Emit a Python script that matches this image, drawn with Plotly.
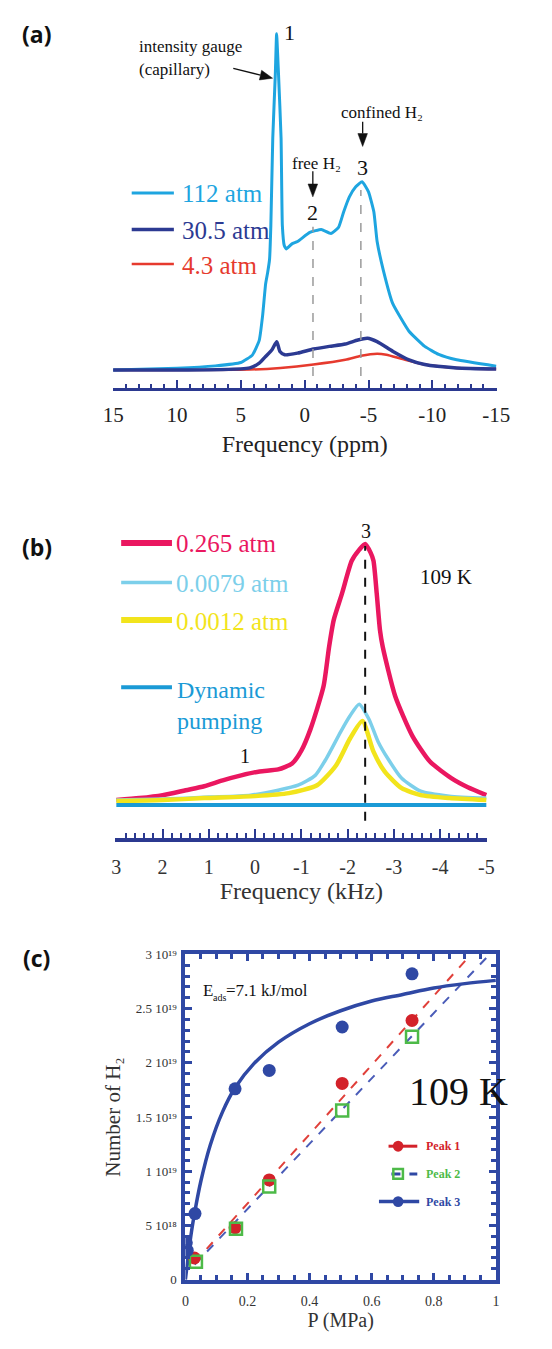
import math
import plotly.graph_objects as go

W, H = 552, 1349
def px(x): return x / W
def py(y): return 1 - y / H

SERIF = "Liberation Serif"
SANS = "Open Sans"

# ---------------- Panel (a) data : frequency (ppm) vs intensity (a.u.)
ppm_112 = [15, 10, 7, 5, 4.1, 3.56, 3.3, 3.06, 2.9, 2.75, 2.65, 2.5, 2.3, 2.2, 2.05, 1.85, 1.75, 1.6, 1.44,
           1.0, 0.56, -0.4, -1.3, -2.05, -2.65, -3.05, -3.5, -4.0, -4.5, -5.0, -5.42, -5.67, -6.17, -6.9,
           -8.17, -9.4, -10.5, -11.9, -15]
int_112 = [0, 0.5, 1.2, 2.2, 4.4, 8.8, 16, 25.6, 29, 33, 43, 69, 88, 100, 88, 69, 43, 37, 36,
           37.5, 38.2, 40.9, 41.8, 40.6, 42.4, 47, 51.5, 54.5, 56, 53, 47, 38.3, 29.5, 19.7,
           11.5, 7, 4.6, 3, 1.1]

ppm_30 = [15, 4.3, 3.56, 3.06, 2.56, 2.19, 1.94, 1.56, 0.56, -0.68, -1.93, -3.18, -4.17, -4.92, -5.67,
          -6.92, -8.17, -9.4, -11.9, -15]
int_30 = [0, 0.6, 2, 4, 6, 8.4, 5.5, 4.5, 5, 6.2, 7, 7.7, 8.9, 9.4, 8.4,
          5.5, 3, 1.6, 0.6, 0.3]

ppm_4 = [15, 4.3, 1.9, -0.68, -3.18, -4.42, -5.67, -6.4, -7.67, -9.4, -11.9, -15]
int_4 = [0, 0.1, 0.6, 1.6, 3, 4.2, 4.8, 4.5, 3.2, 1.6, 0.6, 0.3]

labels_a = ["112 atm", "30.5 atm", "4.3 atm"]
ticks_a = [15, 10, 5, 0, -5, -10, -15]
ticktext_a = ["15", "10", "5", "0", "-5", "-10", "-15"]
free_h2_ppm = -0.65
confined_h2_ppm = -4.4

# ---------------- Panel (b) data : frequency (kHz) vs intensity (a.u.)
khz_265 = [3.0, 2.5, 2.0, 1.5, 1.1, 0.7, 0.3, -0.1, -0.5, -0.8, -1.0, -1.2, -1.48, -1.6, -1.7, -1.88,
           -2.09, -2.25, -2.38, -2.5, -2.56, -2.63, -2.7, -2.76, -3.03, -3.4, -3.78, -4.25, -4.6, -5.0]
int_265 = [5, 7, 10, 15, 19, 25, 30, 34, 36, 42, 55, 77, 120, 160, 187, 214,
           247, 258, 264, 255, 247, 214, 177, 160, 110, 70, 44, 27, 18, 10]

khz_0079 = [3.0, 2.0, 1.0, 0.1, -0.5, -0.93, -1.3, -1.54, -1.85, -2.05, -2.25, -2.46, -2.66, -2.87,
            -3.17, -3.58, -4.2, -5.0]
int_0079 = [5, 6, 8, 10, 15, 20, 30, 47, 74, 90, 102, 87, 64, 47, 27, 14, 9, 7]

khz_0012 = [3.0, 2.0, 1.1, 0.0, -0.73, -1.34, -1.75, -2.05, -2.32, -2.56, -2.8, -3.17, -3.58, -4.2, -5.0]
int_0012 = [4, 5, 7, 9, 12, 20, 40, 67, 85, 54, 34, 17, 10, 7, 5]

khz_dyn = [3.0, 1.0, -1.0, -3.0, -5.0]
int_dyn = [0, 0, 0, 0, 0]

labels_b = ["0.265 atm", "0.0079 atm", "0.0012 atm", "Dynamic<br>pumping"]
ticks_b = [3, 2, 1, 0, -1, -2, -3, -4, -5]
ticktext_b = ["3", "2", "1", "0", "-1", "-2", "-3", "-4", "-5"]
peak3_khz = -2.38

# ---------------- Panel (c) data : pressure (MPa) vs number of H2
p_peak1 = [0.029, 0.16, 0.27, 0.505, 0.73]
n_peak1 = [0.20e19, 0.48e19, 0.92e19, 1.81e19, 2.39e19]
p_peak2 = [0.034, 0.163, 0.27, 0.505, 0.73]
n_peak2 = [0.165e19, 0.47e19, 0.86e19, 1.56e19, 2.24e19]
p_peak3 = [0.003, 0.006, 0.031, 0.16, 0.27, 0.505, 0.73]
n_peak3 = [0.34e19, 0.27e19, 0.61e19, 1.76e19, 1.93e19, 2.33e19, 2.82e19]

p_fit3 = [0, 0.005, 0.01, 0.02, 0.03, 0.05, 0.08, 0.12, 0.16, 0.22, 0.3, 0.4, 0.5, 0.6, 0.7, 0.8, 0.9, 1.0]
n_fit3 = [0, 0.12e19, 0.24e19, 0.45e19, 0.62e19, 0.91e19, 1.24e19, 1.55e19, 1.77e19, 1.99e19,
          2.19e19, 2.36e19, 2.48e19, 2.57e19, 2.63e19, 2.69e19, 2.73e19, 2.76e19]
p_fit1 = [0.03, 0.92]
n_fit1 = [0.16e19, 3.0e19]
p_fit2 = [0.03, 0.98]
n_fit2 = [0.14e19, 3.0e19]

ticks_cy = [0, 5e18, 1e19, 1.5e19, 2e19, 2.5e19, 3e19]
ticktext_cy = ["0", "5 10¹⁸", "1 10¹⁹", "1.5 10¹⁹", "2 10¹⁹", "2.5 10¹⁹", "3 10¹⁹"]
ticks_cx = [0, 0.2, 0.4, 0.6, 0.8, 1]
ticktext_cx = ["0", "0.2", "0.4", "0.6", "0.8", "1"]
legend_c = ["Peak 1", "Peak 2", "Peak 3"]

# ---------------- colours
LBLUE = "#1ea5e0"
DBLUE = "#2c3a92"
RED = "#e63a2e"
PINK = "#ea1760"
CYAN = "#7ccfea"
YELLOW = "#f2e41c"
DYN = "#1a9ad6"
NAVY = "#2b3990"
CRED = "#d3222a"
CGREEN = "#4dba48"
CBLUE = "#2f48a4"

fig = go.Figure()

# panel (a) traces
fig.add_trace(go.Scatter(x=ppm_4, y=int_4, xaxis="x", yaxis="y", mode="lines",
                         line=dict(color=RED, width=2.5, shape="spline", smoothing=0.6), name=labels_a[2]))
fig.add_trace(go.Scatter(x=ppm_112, y=int_112, xaxis="x", yaxis="y", mode="lines",
                         line=dict(color=LBLUE, width=3, shape="spline", smoothing=0.4), name=labels_a[0]))
fig.add_trace(go.Scatter(x=ppm_30, y=int_30, xaxis="x", yaxis="y", mode="lines",
                         line=dict(color=DBLUE, width=3.5, shape="spline", smoothing=0.6), name=labels_a[1]))

# panel (b) traces
fig.add_trace(go.Scatter(x=khz_265, y=int_265, xaxis="x2", yaxis="y2", mode="lines",
                         line=dict(color=PINK, width=4.5, shape="spline", smoothing=0.6), name=labels_b[0]))
fig.add_trace(go.Scatter(x=khz_0079, y=int_0079, xaxis="x2", yaxis="y2", mode="lines",
                         line=dict(color=CYAN, width=3.5, shape="spline", smoothing=0.6), name=labels_b[1]))
fig.add_trace(go.Scatter(x=khz_0012, y=int_0012, xaxis="x2", yaxis="y2", mode="lines",
                         line=dict(color=YELLOW, width=4.5, shape="spline", smoothing=0.6), name=labels_b[2]))
fig.add_trace(go.Scatter(x=khz_dyn, y=int_dyn, xaxis="x2", yaxis="y2", mode="lines",
                         line=dict(color=DYN, width=4), name="Dynamic pumping"))

# panel (c) traces
fig.add_trace(go.Scatter(x=p_fit1, y=n_fit1, xaxis="x3", yaxis="y3", mode="lines",
                         line=dict(color="#e0403a", width=2, dash="dash"), name="Peak 1 fit"))
fig.add_trace(go.Scatter(x=p_fit2, y=n_fit2, xaxis="x3", yaxis="y3", mode="lines",
                         line=dict(color="#4a5cb8", width=2, dash="dash"), name="Peak 2 fit"))
fig.add_trace(go.Scatter(x=p_fit3, y=n_fit3, xaxis="x3", yaxis="y3", mode="lines",
                         line=dict(color=CBLUE, width=3.5, shape="spline"), name="Peak 3 fit"))
fig.add_trace(go.Scatter(x=p_peak1, y=n_peak1, xaxis="x3", yaxis="y3", mode="markers",
                         marker=dict(color=CRED, size=13, symbol="circle"), name=legend_c[0]))
fig.add_trace(go.Scatter(x=p_peak2, y=n_peak2, xaxis="x3", yaxis="y3", mode="markers",
                         marker=dict(color="rgba(0,0,0,0)", size=12, symbol="square",
                                     line=dict(color=CGREEN, width=2.5)), name=legend_c[1]))
fig.add_trace(go.Scatter(x=p_peak3, y=n_peak3, xaxis="x3", yaxis="y3", mode="markers",
                         marker=dict(color=CBLUE, size=13, symbol="circle"), name=legend_c[2]))

# ---------- axes
tickfont_big = dict(family=SERIF, size=21, color="#222")
fig.update_layout(
    xaxis=dict(domain=[px(107), px(508)], range=[15.05, -15.05], anchor="y",
               showline=True, linewidth=3, linecolor=NAVY, ticks="inside", ticklen=8, tickwidth=2,
               tickcolor=NAVY, tickvals=ticks_a, ticktext=ticktext_a, tickfont=tickfont_big,
               minor=dict(ticks="inside", ticklen=4, tickwidth=1.5, tickcolor=NAVY, dtick=1, tick0=0),
               showgrid=False, zeroline=False, ticklabelstandoff=6,
               title=dict(text="Frequency (ppm)", font=dict(family=SERIF, size=24, color="#222"), standoff=10)),
    yaxis=dict(domain=[py(385), py(20)], range=[-5.3, 102.1], visible=False),
    xaxis2=dict(domain=[px(110), px(498)], range=[3.02, -5.02], anchor="y2",
                showline=True, linewidth=4, linecolor=NAVY, ticks="inside", ticklen=9, tickwidth=2,
                tickcolor=NAVY, tickvals=ticks_b, ticktext=ticktext_b, tickfont=dict(family=SERIF, size=20, color="#333"),
                minor=dict(ticks="inside", ticklen=5, tickwidth=1.5, tickcolor=NAVY, dtick=0.2, tick0=0),
                showgrid=False, zeroline=False, ticklabelstandoff=8,
                title=dict(text="Frequency (kHz)", font=dict(family=SERIF, size=24, color="#333"), standoff=6)),
    yaxis2=dict(domain=[py(840), py(530)], range=[-33, 277], visible=False),
    xaxis3=dict(domain=[px(183), px(507)], range=[0, 1], anchor="y3",
                showline=True, mirror="ticks", linewidth=4, linecolor=CBLUE, ticks="inside", ticklen=7,
                tickwidth=3, tickcolor=CBLUE, tickvals=ticks_cx, ticktext=ticktext_cx,
                tickfont=dict(family=SERIF, size=14, color="#333"),
                minor=dict(ticks="inside", ticklen=5, tickwidth=2.5, tickcolor=CBLUE, dtick=0.05, tick0=0),
                showgrid=False, zeroline=False, ticklabelstandoff=6,
                title=dict(text="P (MPa)", font=dict(family=SERIF, size=20, color="#333"), standoff=4)),
    yaxis3=dict(domain=[py(1287), py(958)], range=[0, 3e19], anchor="x3",
                showline=True, mirror="ticks", linewidth=4, linecolor=CBLUE, ticks="inside", ticklen=7,
                tickwidth=3, tickcolor=CBLUE, tickvals=ticks_cy, ticktext=ticktext_cy,
                tickfont=dict(family=SERIF, size=13, color="#333"),
                minor=dict(ticks="inside", ticklen=5, tickwidth=2.5, tickcolor=CBLUE, dtick=1e18, tick0=0),
                showgrid=False, zeroline=False, ticklabelstandoff=2,
                title=dict(text="Number of H₂", font=dict(family=SERIF, size=21, color="#333"), standoff=10)),
)

shapes = []
ann = []

def text(x, y, s, size, color="#111", family=SERIF, xanchor="center", **kw):
    ann.append(dict(x=px(x), y=py(y), xref="paper", yref="paper", text=s, showarrow=False,
                    font=dict(family=family, size=size, color=color), xanchor=xanchor, yanchor="middle", **kw))

def pline(x0, y0, x1, y1, color, width, dash="solid"):
    shapes.append(dict(type="line", xref="paper", yref="paper", x0=px(x0), y0=py(y0), x1=px(x1), y1=py(y1),
                       line=dict(color=color, width=width, dash=dash)))

def arrow(x0, y0, x1, y1, head=13, half=5):
    d = math.hypot(x1 - x0, y1 - y0)
    ux, uy = (x1 - x0) / d, (y1 - y0) / d
    bx, by = x1 - head * ux, y1 - head * uy
    pline(x0, y0, bx, by, "#111", 1.3)
    p1 = (bx - half * uy, by + half * ux)
    p2 = (bx + half * uy, by - half * ux)
    path = "M {} {} L {} {} L {} {} Z".format(px(x1), py(y1), px(p1[0]), py(p1[1]), px(p2[0]), py(p2[1]))
    shapes.append(dict(type="path", xref="paper", yref="paper", path=path, fillcolor="#111",
                       line=dict(color="#111", width=0.5)))

# panel labels
text(28, 27, "<b>(a)</b>", 23, family=SANS)
text(28, 546, "<b>(b)</b>", 23, family=SANS)
text(28, 962, "<b>(c)</b>", 23, family=SANS)

# ---- panel (a) annotations
text(132, 40, "intensity gauge", 17, xanchor="left")
text(132, 63, "(capillary)", 17, xanchor="left")
arrow(233, 62, 274, 72)
text(292, 26, "1", 22)
text(320, 158, "free H₂", 17)
arrow(316, 166, 316, 192)
text(316, 208, "2", 22)
text(388, 107, "confined H₂", 17)
arrow(368, 116, 368, 141)
text(368, 162, "3", 22)
shapes.append(dict(type="line", xref="x", yref="y", x0=free_h2_ppm, x1=free_h2_ppm, y0=-1.8, y1=42.6,
                   line=dict(color="#9a9a9a", width=1.5, dash="dash")))
shapes.append(dict(type="line", xref="x", yref="y", x0=confined_h2_ppm, x1=confined_h2_ppm, y0=-1.8, y1=53.5,
                   line=dict(color="#9a9a9a", width=1.5, dash="dash")))
for lab, col, yy, lw in zip(labels_a, [LBLUE, DBLUE, RED], [188, 225, 260], [3, 3.5, 2.5]):
    pline(127, yy, 171, yy, col, lw)
    text(177, yy + 1, lab, 25, color=col, xanchor="left")

# ---- panel (b) annotations
shapes.append(dict(type="line", xref="x2", yref="y2", x0=peak3_khz, x1=peak3_khz, y0=-16, y1=262,
                   line=dict(color="#111", width=2, dash="dash")))
text(371, 530, "3", 20)
text(245, 757, "1", 20)
text(455, 576, "109 K", 21)
for lab, col, yy, lw in zip(labels_b[:3], [PINK, CYAN, YELLOW], [542, 582, 620], [6, 3.5, 6]):
    pline(116, yy, 169, yy, col, lw)
    text(171, yy + 1, lab, 25, color=col, xanchor="left")
pline(116, 688, 169, 688, DYN, 4)
text(172, 706, labels_b[3], 24, color=DYN, xanchor="left", align="left")

# ---- panel (c) annotations
text(199, 995, "E", 17, xanchor="left")
text(210, 1002, "ads", 10, xanchor="left")
text(223, 995, "=7.1 kJ/mol", 17, xanchor="left")
text(468, 1097, "109 K", 40)
legend_rows = [(1152, CRED, legend_c[0]), (1180, CGREEN, legend_c[1]), (1208, CBLUE, legend_c[2])]
pline(395, 1152, 425, 1152, CRED, 3)
shapes.append(dict(type="circle", xref="paper", yref="paper", x0=px(399.5), x1=px(410.5), y0=py(1157.5),
                   y1=py(1146.5), fillcolor=CRED, line=dict(color=CRED, width=0)))
pline(398, 1180, 425, 1180, CBLUE, 3, dash="dash")
shapes.append(dict(type="rect", xref="paper", yref="paper", x0=px(400), x1=px(410), y0=py(1185), y1=py(1175),
                   fillcolor="rgba(255,255,255,0)", line=dict(color=CGREEN, width=2.5)))
pline(385, 1208, 427, 1208, CBLUE, 3.5)
shapes.append(dict(type="circle", xref="paper", yref="paper", x0=px(399.5), x1=px(410.5), y0=py(1213.5),
                   y1=py(1202.5), fillcolor=CBLUE, line=dict(color=CBLUE, width=0)))
for yy, col, lab in legend_rows:
    text(432, yy, "<b>" + lab + "</b>", 12, color=col, xanchor="left")

fig.update_layout(width=W, height=H, margin=dict(l=0, r=0, t=0, b=0), showlegend=False,
                  paper_bgcolor="white", plot_bgcolor="rgba(0,0,0,0)", shapes=shapes, annotations=ann)

fig.write_html("out.html", config={"displayModeBar": False},
               post_script="document.body.style.margin='0';document.body.style.overflow='hidden';")
